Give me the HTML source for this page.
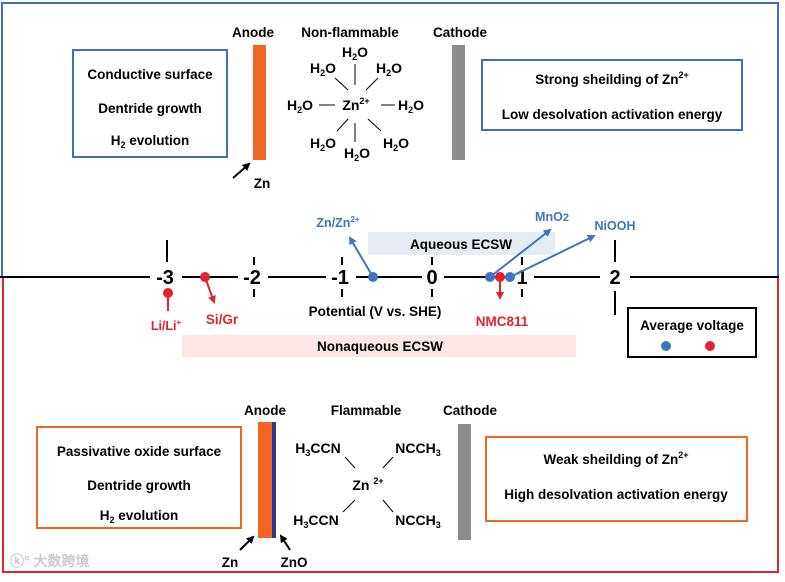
<!DOCTYPE html>
<html><head><meta charset="utf-8"><style>
body{margin:0;background:#fff}
svg text{font-family:"Liberation Sans",Arial,sans-serif;font-weight:bold}
</style></head><body>
<svg width="785" height="577" viewBox="0 0 785 577" xmlns="http://www.w3.org/2000/svg">
<defs>
<marker id="ab" markerWidth="8" markerHeight="8" refX="6" refY="4" orient="auto" markerUnits="userSpaceOnUse"><path d="M0,0 L8,4 L0,8 Z" fill="#3f74c0"/></marker>
<marker id="ar" markerWidth="8" markerHeight="8" refX="6" refY="4" orient="auto" markerUnits="userSpaceOnUse"><path d="M0,0 L8,4 L0,8 Z" fill="#e0242b"/></marker>
<marker id="ak" markerWidth="8" markerHeight="8" refX="6" refY="4" orient="auto" markerUnits="userSpaceOnUse"><path d="M0,0 L8,4 L0,8 Z" fill="#000"/></marker>
</defs>
<path d="M2,277 L2,3 L778,3 L778,277" fill="none" stroke="#3f6fb8" stroke-width="2"/>
<path d="M3,277 L3,572 L778,572 L778,277" fill="none" stroke="#e0242b" stroke-width="2"/>
<!-- top -->
<g font-size="13.5" text-anchor="middle">
<text x="253" y="37">Anode</text><text x="350" y="37">Non-flammable</text><text x="460" y="37">Cathode</text>
</g>
<rect x="73" y="50" width="154" height="107" fill="none" stroke="#3f6fb8" stroke-width="2"/>
<g font-size="13.5" text-anchor="middle">
<text x="150" y="79">Conductive surface</text>
<text x="150" y="113">Dentride growth</text>
<text x="150" y="145">H<tspan font-size="9" dy="3">2</tspan><tspan dy="-3"> evolution</tspan></text>
</g>
<rect x="253" y="45" width="13" height="115" fill="#f26522"/>
<rect x="452" y="45" width="13" height="115" fill="#8c8c8e"/>
<line x1="233" y1="178" x2="249" y2="164" stroke="#000" stroke-width="2" marker-end="url(#ak)"/>
<text x="262" y="188" font-size="13.5" text-anchor="middle">Zn</text>
<rect x="482" y="60" width="260" height="70" fill="none" stroke="#3f6fb8" stroke-width="2"/>
<g font-size="13.5" text-anchor="middle">
<text x="612" y="84">Strong sheilding of Zn<tspan font-size="9" dy="-6">2+</tspan></text>
<text x="612" y="119">Low desolvation activation energy</text>
</g>
<g font-size="14" text-anchor="middle">
<text x="355" y="57">H<tspan font-size="9" dy="3">2</tspan><tspan dy="-3">O</tspan></text>
<text x="323" y="73">H<tspan font-size="9" dy="3">2</tspan><tspan dy="-3">O</tspan></text>
<text x="389" y="73">H<tspan font-size="9" dy="3">2</tspan><tspan dy="-3">O</tspan></text>
<text x="300" y="110">H<tspan font-size="9" dy="3">2</tspan><tspan dy="-3">O</tspan></text>
<text x="356" y="110">Zn<tspan font-size="9" dy="-6">2+</tspan></text>
<text x="411" y="110">H<tspan font-size="9" dy="3">2</tspan><tspan dy="-3">O</tspan></text>
<text x="323" y="148">H<tspan font-size="9" dy="3">2</tspan><tspan dy="-3">O</tspan></text>
<text x="396" y="148">H<tspan font-size="9" dy="3">2</tspan><tspan dy="-3">O</tspan></text>
<text x="357" y="158">H<tspan font-size="9" dy="3">2</tspan><tspan dy="-3">O</tspan></text>
</g>
<g stroke="#000" stroke-width="1">
<line x1="355" y1="64" x2="355" y2="85"/><line x1="335" y1="78" x2="348" y2="90"/><line x1="378" y1="78" x2="366" y2="90"/>
<line x1="319" y1="105" x2="335" y2="105"/><line x1="381" y1="105" x2="395" y2="105"/>
<line x1="337" y1="131" x2="348" y2="119"/><line x1="368" y1="119" x2="381" y2="131"/><line x1="355" y1="123" x2="355" y2="142"/>
</g>
<!-- axis -->
<g stroke="#000" stroke-width="2">
<line x1="0" y1="277" x2="150" y2="277"/>
<line x1="182" y1="277" x2="238" y2="277"/>
<line x1="268" y1="277" x2="326" y2="277"/>
<line x1="356" y1="277" x2="422" y2="277"/>
<line x1="444" y1="277" x2="512" y2="277"/>
<line x1="534" y1="277" x2="600" y2="277"/>
<line x1="630" y1="277" x2="779" y2="277"/>
<line x1="167" y1="240" x2="167" y2="262"/>
<line x1="615" y1="240" x2="615" y2="262"/><line x1="615" y1="291" x2="615" y2="315"/>
<line x1="254" y1="257" x2="254" y2="265"/><line x1="254" y1="289" x2="254" y2="297"/>
<line x1="342" y1="257" x2="342" y2="265"/><line x1="342" y1="289" x2="342" y2="297"/>
<line x1="432" y1="257" x2="432" y2="265"/><line x1="432" y1="289" x2="432" y2="297"/>
<line x1="522" y1="257" x2="522" y2="265"/><line x1="522" y1="289" x2="522" y2="297"/>
</g>
<g font-size="20" text-anchor="middle">
<text x="165" y="284">-3</text><text x="252" y="284">-2</text><text x="340" y="284">-1</text>
<text x="432" y="284">0</text><text x="522" y="284">1</text><text x="615" y="284">2</text>
</g>
<rect x="368" y="232" width="187" height="23" fill="#e5ecf6"/>
<text x="461" y="249" font-size="13.5" text-anchor="middle">Aqueous  ECSW</text>
<rect x="182" y="335" width="394" height="22" fill="#fce6e6"/>
<text x="380" y="351" font-size="13.5" text-anchor="middle">Nonaqueous  ECSW</text>
<text x="375" y="316" font-size="13.5" text-anchor="middle">Potential (V vs. SHE)</text>
<!-- points -->
<line x1="373" y1="277" x2="350" y2="238" stroke="#3f74c0" stroke-width="2" marker-end="url(#ab)"/>
<circle cx="373" cy="277" r="5" fill="#3f74c0"/>
<text x="338" y="227" font-size="12.5" text-anchor="middle" fill="#3f74c0">Zn/Zn<tspan font-size="8" dy="-5">2+</tspan></text>
<line x1="490" y1="277" x2="550" y2="230" stroke="#3f74c0" stroke-width="2" marker-end="url(#ab)"/>
<line x1="510" y1="277" x2="594" y2="236" stroke="#3f74c0" stroke-width="2" marker-end="url(#ab)"/>
<circle cx="490" cy="277" r="5" fill="#3f74c0"/>
<circle cx="510" cy="277" r="5" fill="#3f74c0"/>
<text x="552" y="221" font-size="12.5" text-anchor="middle" fill="#3f74c0">MnO<tspan font-size="11">2</tspan></text>
<text x="615" y="230" font-size="12.5" text-anchor="middle" fill="#3f74c0">NiOOH</text>
<line x1="500" y1="277" x2="500" y2="298" stroke="#e0242b" stroke-width="2" marker-end="url(#ar)"/>
<circle cx="500" cy="277" r="5" fill="#e0242b"/>
<text x="502" y="326" font-size="13.5" text-anchor="middle" fill="#e0242b">NMC811</text>
<line x1="168" y1="293" x2="168" y2="311" stroke="#e0242b" stroke-width="2"/>
<circle cx="168" cy="293" r="5" fill="#e0242b"/>
<text x="166" y="330" font-size="12.5" text-anchor="middle" fill="#e0242b">Li/Li<tspan font-size="8" dy="-5">+</tspan></text>
<line x1="205" y1="277" x2="214" y2="302" stroke="#e0242b" stroke-width="2" marker-end="url(#ar)"/>
<circle cx="205" cy="277" r="5" fill="#e0242b"/>
<text x="222" y="324" font-size="13.5" text-anchor="middle" fill="#e0242b">Si/Gr</text>
<rect x="628" y="308" width="128" height="49" fill="none" stroke="#000" stroke-width="2"/>
<text x="692" y="330" font-size="13.5" text-anchor="middle">Average voltage</text>
<circle cx="666" cy="346" r="5" fill="#3f74c0"/><circle cx="710" cy="346" r="5" fill="#e0242b"/>
<!-- bottom -->
<g font-size="13.5" text-anchor="middle">
<text x="265" y="415">Anode</text><text x="366" y="415">Flammable</text><text x="470" y="415">Cathode</text>
</g>
<rect x="37" y="427" width="204" height="101" fill="none" stroke="#f26522" stroke-width="2"/>
<g font-size="13.5" text-anchor="middle">
<text x="139" y="456">Passivative oxide surface</text>
<text x="139" y="490">Dentride growth</text>
<text x="139" y="520">H<tspan font-size="9" dy="3">2</tspan><tspan dy="-3"> evolution</tspan></text>
</g>
<rect x="258" y="422" width="14" height="116" fill="#f26522"/>
<rect x="272" y="422" width="4" height="116" fill="#2b3990"/>
<rect x="458" y="424" width="13" height="116" fill="#8c8c8e"/>
<line x1="240" y1="550" x2="253" y2="537" stroke="#000" stroke-width="2" marker-end="url(#ak)"/>
<line x1="290" y1="550" x2="281" y2="536" stroke="#000" stroke-width="2" marker-end="url(#ak)"/>
<text x="230" y="567" font-size="13.5" text-anchor="middle">Zn</text>
<text x="294" y="567" font-size="13.5" text-anchor="middle">ZnO</text>
<rect x="486" y="437" width="261" height="84" fill="none" stroke="#f26522" stroke-width="2"/>
<g font-size="13.5" text-anchor="middle">
<text x="616" y="464">Weak sheilding of Zn<tspan font-size="9" dy="-6">2+</tspan></text>
<text x="616" y="499">High desolvation activation energy</text>
</g>
<g font-size="14" text-anchor="middle">
<text x="318" y="453">H<tspan font-size="9" dy="3">3</tspan><tspan dy="-3">CCN</tspan></text>
<text x="418" y="453">NCCH<tspan font-size="9" dy="3">3</tspan></text>
<text x="368" y="490">Zn <tspan font-size="9" dy="-6">2+</tspan></text>
<text x="316" y="525">H<tspan font-size="9" dy="3">3</tspan><tspan dy="-3">CCN</tspan></text>
<text x="418" y="525">NCCH<tspan font-size="9" dy="3">3</tspan></text>
</g>
<g stroke="#000" stroke-width="1">
<line x1="345" y1="457" x2="355" y2="468"/><line x1="393" y1="457" x2="383" y2="468"/>
<line x1="355" y1="500" x2="343" y2="512"/><line x1="383" y1="500" x2="393" y2="512"/>
</g>
<text x="10" y="566" font-size="14" fill="#ccc" font-family="Liberation Sans, Noto Sans CJK SC, sans-serif">ⓚ° 大数跨境</text>
</svg>
</body></html>
